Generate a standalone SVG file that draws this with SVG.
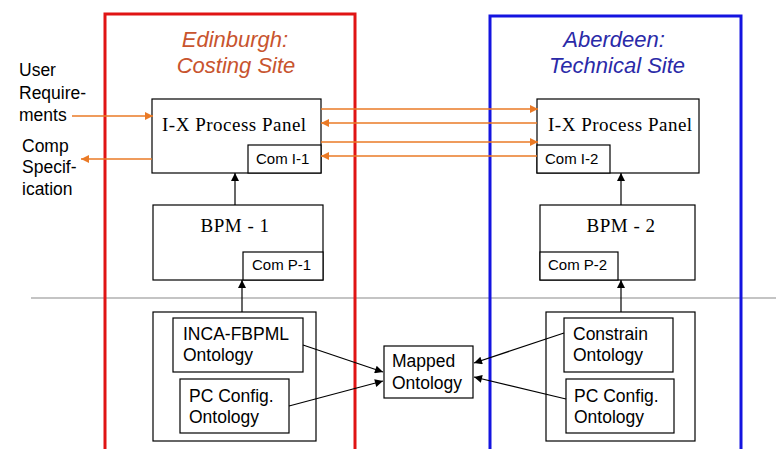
<svg xmlns="http://www.w3.org/2000/svg" width="776" height="449" viewBox="0 0 776 449">
<defs>
<marker id="oa" viewBox="0 0 10 10" refX="10" refY="5" markerWidth="11" markerHeight="8" markerUnits="userSpaceOnUse" orient="auto"><path d="M0,0 L10,5 L0,10 z" fill="#ea7a26"/></marker>
<marker id="ba" viewBox="0 0 10 10" refX="10" refY="5" markerWidth="11" markerHeight="8" markerUnits="userSpaceOnUse" orient="auto"><path d="M0,0 L10,5 L0,10 z" fill="#000"/></marker>
</defs>
<style>
.box{fill:#fff;stroke:#000;stroke-width:1.2}
.serif{font-family:"Liberation Serif","Times New Roman",serif;font-size:19px;letter-spacing:0.5px;fill:#000}
.sans{font-family:"Liberation Sans",Arial,sans-serif;font-size:17.5px;fill:#000}
.small{font-family:"Liberation Sans",Arial,sans-serif;font-size:15px;fill:#000}
.title{font-family:"Liberation Sans",Arial,sans-serif;font-size:22px;font-style:italic;text-anchor:middle}
.or{stroke:#ea7a26;stroke-width:1.5;fill:none;marker-end:url(#oa)}
.bk{stroke:#000;stroke-width:1.2;fill:none;marker-end:url(#ba)}
</style>
<rect width="776" height="449" fill="#fff"/>
<line x1="31" y1="298" x2="776" y2="298" stroke="#8a8a8a" stroke-width="1.2"/>
<g id="edinburgh">
<rect x="105" y="14" width="250" height="445" fill="none" stroke="#e01414" stroke-width="3"/>
<text class="title" x="235" y="47" fill="#c8542e">Edinburgh:</text>
<text class="title" x="236" y="73" fill="#c8542e">Costing Site</text>
</g>
<g id="aberdeen">
<rect x="490" y="16" width="251" height="445" fill="none" stroke="#1414e0" stroke-width="3"/>
<text class="title" x="614" y="47" fill="#2a2aa8">Aberdeen:</text>
<text class="title" x="617" y="73" fill="#2a2aa8">Technical Site</text>
</g>
<g id="user-req">
<text class="sans" x="19" y="76">User</text>
<text class="sans" x="19" y="99">Require-</text>
<text class="sans" x="19" y="121">ments</text>
</g>
<g id="comp-spec">
<text class="sans" x="22" y="152">Comp</text>
<text class="sans" x="22" y="173">Specif-</text>
<text class="sans" x="22" y="195">ication</text>
</g>
<g id="ix1">
<rect class="box" x="152" y="99" width="169" height="74"/>
<text class="serif" x="162" y="131">I-X Process Panel</text>
<rect class="box" x="248" y="145" width="73" height="28"/>
<text class="small" x="256" y="164">Com I-1</text>
</g>
<g id="ix2">
<rect class="box" x="537" y="99" width="162" height="74"/>
<text class="serif" x="548" y="131">I-X Process Panel</text>
<rect class="box" x="537" y="145" width="73" height="28"/>
<text class="small" x="545" y="164">Com I-2</text>
</g>
<g id="bpm1">
<rect class="box" x="153" y="205" width="170" height="75"/>
<text class="serif" x="235" y="232" text-anchor="middle">BPM - 1</text>
<rect class="box" x="243" y="252" width="80" height="28"/>
<text class="small" x="252" y="270">Com P-1</text>
</g>
<g id="bpm2">
<rect class="box" x="540" y="205" width="155" height="75"/>
<text class="serif" x="621" y="232" text-anchor="middle">BPM - 2</text>
<rect class="box" x="540" y="252" width="78" height="28"/>
<text class="small" x="548" y="270">Com P-2</text>
</g>
<g id="onto1">
<rect class="box" x="153" y="312" width="163" height="129"/>
<rect class="box" x="173" y="318" width="130" height="54"/>
<text class="sans" x="183" y="340">INCA-FBPML</text>
<text class="sans" x="183" y="361">Ontology</text>
<rect class="box" x="180" y="379" width="109" height="54"/>
<text class="sans" x="189" y="402">PC Config.</text>
<text class="sans" x="189" y="423">Ontology</text>
</g>
<g id="onto2">
<rect class="box" x="546" y="312" width="149" height="129"/>
<rect class="box" x="564" y="318" width="109" height="54"/>
<text class="sans" x="573" y="340">Constrain</text>
<text class="sans" x="573" y="361">Ontology</text>
<rect class="box" x="566" y="379" width="108" height="54"/>
<text class="sans" x="574" y="402">PC Config.</text>
<text class="sans" x="574" y="423">Ontology</text>
</g>
<g id="mapped">
<rect class="box" x="384" y="346" width="89" height="52"/>
<text class="sans" x="392" y="367">Mapped</text>
<text class="sans" x="392" y="389">Ontology</text>
</g>
<g id="connectors">
<line class="or" x1="72" y1="116" x2="153" y2="116"/>
<line class="or" x1="152" y1="159" x2="81" y2="159"/>
<line class="or" x1="321" y1="109" x2="538" y2="109"/>
<line class="or" x1="537" y1="123" x2="321" y2="123"/>
<line class="or" x1="321" y1="142" x2="538" y2="142"/>
<line class="or" x1="537" y1="156" x2="321" y2="156"/>
<line class="bk" x1="235" y1="205" x2="235" y2="173"/>
<line class="bk" x1="621" y1="205" x2="621" y2="173"/>
<line class="bk" x1="242" y1="312" x2="242" y2="280"/>
<line class="bk" x1="621" y1="312" x2="621" y2="280"/>
<line class="bk" x1="303" y1="345" x2="383" y2="372"/>
<line class="bk" x1="289" y1="406" x2="383" y2="381"/>
<line class="bk" x1="564" y1="333" x2="474" y2="363"/>
<line class="bk" x1="566" y1="399" x2="474" y2="377"/>
</g>
</svg>
